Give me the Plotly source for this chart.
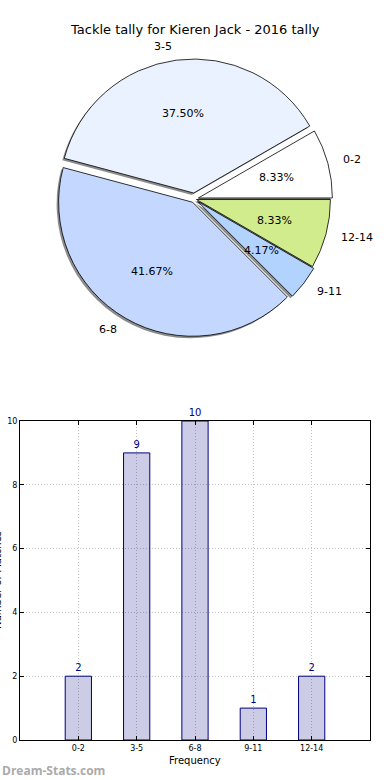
import math
import plotly.graph_objects as go

# ---- data ----
categories = ["0-2", "3-5", "6-8", "9-11", "12-14"]
counts = [2, 9, 10, 1, 2]
slice_colors = ["#FFFFFF", "#EAF1FF", "#C4D8FF", "#B3D3FF", "#D0EC8C"]
pulls = [0.03, 0.045, 0.028, 0.03, 0.015]
title_text = "Tackle tally for Kieren Jack - 2016 tally"
x_title = "Frequency"
y_title = "Number of Matches"
watermark = "Dream-Stats.com"
y_ticks = [0, 2, 4, 6, 8, 10]

W, H = 390, 780
FONT = "DejaVu Sans"

total = sum(counts)
# plotly: ccw pies start at rotation + first slice angle; we want first slice to start at 3 o'clock
rotation = 90 - 360 * counts[0] / total

# pie geometry (pixels)
cx, cy = 194.5, 199.0
R = 134.0
max_pull = max(pulls)
half = R * (1 + max_pull)

def px_x(p):
    return p / W

def px_y(p):
    return 1 - p / H

dom_x = [px_x(cx - half), px_x(cx + half)]
dom_y = [px_y(cy + half), px_y(cy - half)]

fig = go.Figure()

# shadow pie
sh = 2.0
fig.add_trace(go.Pie(
    labels=categories, values=counts, sort=False, direction="counterclockwise",
    rotation=rotation, pull=pulls, textinfo="none", hoverinfo="skip",
    marker=dict(colors=["rgba(0,0,0,0.45)"] * len(counts), line=dict(width=0)),
    domain=dict(x=[dom_x[0] - sh / W, dom_x[1] - sh / W], y=[dom_y[0] - sh / H, dom_y[1] - sh / H]),
    showlegend=False, automargin=False,
))

# main pie
fig.add_trace(go.Pie(
    labels=categories, values=counts, sort=False, direction="counterclockwise",
    rotation=rotation, pull=pulls, textinfo="none",
    marker=dict(colors=slice_colors, line=dict(color="#000000", width=0.8)),
    domain=dict(x=dom_x, y=dom_y),
    showlegend=False, automargin=False,
))

# pie text annotations (computed from data)
start = 0.0
annotations = []
for lab, v, p in zip(categories, counts, pulls):
    frac = v / total
    mid = math.radians((start + frac / 2) * 360)
    start += frac
    ox = cx + p * R * math.cos(mid)
    oy = cy - p * R * math.sin(mid)
    tx = ox + 0.6 * R * math.cos(mid)
    ty = oy - 0.6 * R * math.sin(mid)
    annotations.append(dict(x=px_x(tx), y=px_y(ty), xref="paper", yref="paper",
                            text=f"{frac*100:.2f}%", showarrow=False,
                            xanchor="center", yanchor="middle",
                            font=dict(family=FONT, size=11, color="#000")))
    lx = ox + 1.1 * R * math.cos(mid)
    ly = oy - 1.1 * R * math.sin(mid)
    annotations.append(dict(x=px_x(lx), y=px_y(ly), xref="paper", yref="paper",
                            text=lab, showarrow=False,
                            xanchor="left" if math.cos(mid) >= 0 else "right",
                            yanchor="middle",
                            font=dict(family=FONT, size=11, color="#000")))

# bar chart
fig.add_trace(go.Bar(
    x=list(range(len(categories))), y=counts, width=0.45,
    marker=dict(color="rgba(0,0,128,0.2)", line=dict(color="navy", width=1)),
    text=[str(c) for c in counts], textposition="outside", cliponaxis=False,
    textfont=dict(family=FONT, size=10, color="navy"),
    xaxis="x", yaxis="y", showlegend=False,
))

annotations.append(dict(x=0.5, y=px_y(30), xref="paper", yref="paper", text=title_text,
                        showarrow=False, xanchor="center", yanchor="middle",
                        font=dict(family=FONT, size=13, color="#000")))
annotations.append(dict(x=px_x(195), y=px_y(760), xref="paper", yref="paper", text=x_title,
                        showarrow=False, xanchor="center", yanchor="middle",
                        font=dict(family=FONT, size=10, color="#000")))
annotations.append(dict(x=px_x(0), y=px_y(770), xref="paper", yref="paper", text=f"<b>{watermark}</b>",
                        showarrow=False, xanchor="left", yanchor="middle",
                        font=dict(family="Open Sans", size=12, color="#aaaaaa")))
annotations.append(dict(x=px_x(-3), y=px_y(580), xref="paper", yref="paper", text=y_title,
                        showarrow=False, textangle=-90, xanchor="center", yanchor="middle",
                        font=dict(family=FONT, size=10, color="#000")))

grid = dict(showgrid=True, gridcolor="#c4c4c4", griddash="1px,2px", gridwidth=1)

fig.update_layout(
    width=W, height=H,
    margin=dict(l=0, r=0, t=0, b=0, autoexpand=False),
    paper_bgcolor="white", plot_bgcolor="white",
    annotations=annotations,
    xaxis=dict(domain=[px_x(20), px_x(370)], range=[-1, 5],
               tickvals=list(range(len(categories))), ticktext=categories,
               tickfont=dict(family=FONT, size=8, color="#000"),
               showline=True, linecolor="#000", linewidth=1, mirror="ticks",
               ticks="inside", ticklen=4, tickcolor="#000",
               zeroline=False, fixedrange=True, automargin=False,
               **grid),
    yaxis=dict(domain=[px_y(740), px_y(421)], range=[0, 10],
               tickvals=y_ticks, ticktext=[str(t) for t in y_ticks],
               tickfont=dict(family=FONT, size=8, color="#000"),
               showline=True, linecolor="#000", linewidth=1, mirror="ticks",
               ticks="inside", ticklen=4, tickcolor="#000",
               zeroline=False, fixedrange=True, automargin=False,
               **grid),
)

fig.write_html("out.html", config={"displayModeBar": False},
               post_script="document.body.style.margin='0';document.body.style.overflow='hidden';")
